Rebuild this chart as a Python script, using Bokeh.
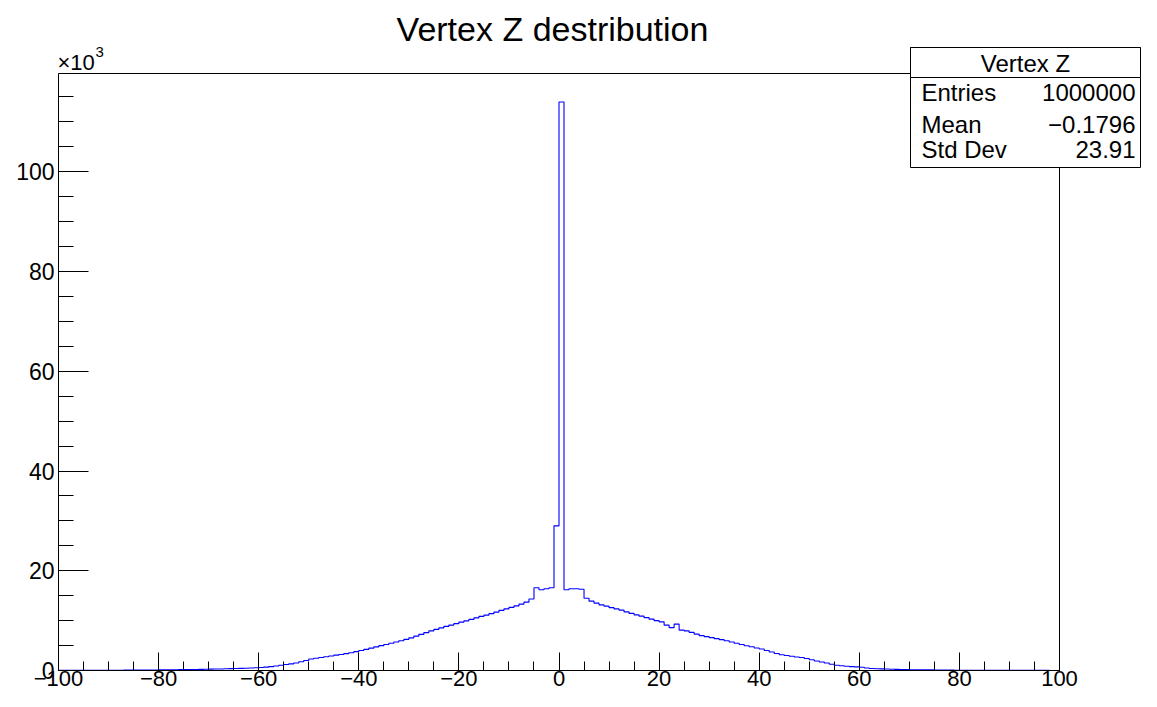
from bokeh.plotting import figure
from bokeh.models import (Range1d, SingleIntervalTicker, FixedTicker, CustomJSTickFormatter,
                          Label, BoxAnnotation, LinearAxis)
from bokeh.embed import file_html
from bokeh.resources import INLINE

# ---------------- data ----------------
title_text = "Vertex Z destribution"
stats_title = "Vertex Z"
stats_names = ["Entries", "Mean", "Std Dev"]
stats_values = ["1000000", "\u22120.1796", "23.91"]

x_min, x_max = -100, 100
bin_width = 1

# bins -100 .. -1
counts_neg = [
    20, 22, 25, 28, 30, 33, 36, 40, 44, 48, 52, 57, 62, 68, 74, 80, 87, 95, 103, 112,
    122, 132, 143, 155, 168, 182, 197, 213, 230, 250,
    270, 292, 315, 340, 368, 398, 430, 465, 505, 550,
    600, 680, 780, 900, 1050, 1200, 1330, 1500, 1750, 2000,
    2300, 2450, 2600, 2760, 2920, 3080, 3220, 3380, 3560, 3780,
    4000, 4230, 4480, 4730, 4980, 5220, 5470, 5710, 5950, 6250,
    6550, 6900, 7250, 7600, 7950, 8250, 8550, 8850, 9100, 9400,
    9700, 9950, 10250, 10550, 10850, 11100, 11400, 11700, 12050, 12350,
    12650, 12950, 13300, 13700, 14350, 16600, 16200, 16400, 16600, 29000,
]
# bins 0 .. 99
counts_pos = [
    114000, 16200, 16400, 16400, 16300, 14500, 13900, 13500, 13150, 12900,
    12600, 12350, 12100, 11750, 11450, 11150, 10900, 10600, 10300, 10000,
    9750, 9100, 8600, 9300, 8100, 7950, 7650, 7300, 7000, 6800,
    6600, 6400, 6200, 5950, 5700, 5450, 5200, 4950, 4750, 4500,
    4300, 4000, 3700, 3400, 3150, 3000, 2850, 2700, 2600, 2400,
    2150, 1900, 1700, 1500, 1250, 1050, 950, 850, 780, 720,
    650, 500, 400, 350, 320, 290, 260, 220, 200, 180,
    165, 150, 140, 130, 120, 110, 80, 75, 70, 65,
    60, 55, 50, 46, 42, 38, 35, 32, 29, 27,
    25, 23, 21, 20, 19, 18, 17, 16, 15, 14,
]
counts = counts_neg + counts_pos
edges = [x_min + i * bin_width for i in range(len(counts) + 1)]

y_min = 0
y_top = max(counts) * 1.05

# ---------------- layout (canvas px) ----------------
W, H = 1141, 691
PX_L, PX_R = 58, 1059     # where x_min / x_max sit on the canvas
PY_T, PY_B = 73, 670      # where y_top / y_min sit on the canvas

sx = (PX_R - PX_L) / (x_max - x_min)
sy = (PY_B - PY_T) / (y_top - y_min)
x_range = Range1d(x_min - PX_L / sx, x_max + (W - PX_R) / sx)
y_range = Range1d(y_min - (H - PY_B) / sy, y_top + PY_T / sy)

FONT = "Liberation Sans"

p = figure(width=W, height=H, output_backend="svg", toolbar_location=None,
           x_range=x_range, y_range=y_range,
           min_border=0, min_border_left=0, min_border_right=0,
           min_border_top=0, min_border_bottom=0)
p.grid.visible = False
p.outline_line_color = None
p.background_fill_color = "white"
p.border_fill_color = "white"

# histogram outline
p.step(edges, counts + [counts[-1]], mode="after", line_color="#0000ff", line_width=1.1)

minus_fmt = CustomJSTickFormatter(code="""
    const v = Math.round(tick);
    return v < 0 ? "\u2212" + Math.abs(v) : String(v);
""")
k_fmt = CustomJSTickFormatter(code="return String(Math.round(tick/1000));")

xa = p.xaxis[0]
xa.fixed_location = y_min
xa.bounds = (x_min, x_max)
xa.ticker = SingleIntervalTicker(interval=20, num_minor_ticks=4)
xa.formatter = minus_fmt
xa.major_tick_in = 18
xa.major_tick_out = 0
xa.minor_tick_in = 9
xa.minor_tick_out = 0
xa.major_label_standoff = 0
xa.major_label_text_font = FONT
xa.major_label_text_font_size = "22px"
xa.major_label_text_color = "black"
xa.axis_line_color = "black"
xa.major_tick_line_color = "black"
xa.minor_tick_line_color = "black"

ya = p.yaxis[0]
ya.fixed_location = x_min
ya.bounds = (y_min, y_top)
ya.ticker = SingleIntervalTicker(interval=20000, num_minor_ticks=4)
ya.formatter = k_fmt
ya.major_tick_in = 30
ya.major_tick_out = 0
ya.minor_tick_in = 15
ya.minor_tick_out = 0
ya.major_label_standoff = 4
ya.major_label_text_font = FONT
ya.major_label_text_font_size = "23px"
ya.major_label_text_color = "black"
ya.axis_line_color = "black"
ya.major_tick_line_color = "black"
ya.minor_tick_line_color = "black"

# frame: top and right edges
top_ax = LinearAxis(fixed_location=y_top, bounds=(x_min, x_max),
                    ticker=FixedTicker(ticks=[]), axis_line_color="black",
                    major_tick_line_color=None, minor_tick_line_color=None)
right_ax = LinearAxis(fixed_location=x_max, bounds=(y_min, y_top),
                      ticker=FixedTicker(ticks=[]), axis_line_color="black",
                      major_tick_line_color=None, minor_tick_line_color=None)
p.add_layout(top_ax, "above")
p.add_layout(right_ax, "right")

def clabel(x, y, text, size, align="left", baseline="middle"):
    return Label(x=x, y=y, x_units="canvas", y_units="canvas", text=text,
                 text_align=align, text_baseline=baseline, text_font=FONT,
                 text_font_size=size, text_color="black")

# title
p.add_layout(clabel(552, 28, title_text, "34px", align="center"))

# x10^3 exponent
p.add_layout(clabel(57, 62, "\u00d710", "22px"))
p.add_layout(clabel(95, 51, "3", "15px"))

# stats box
BL, BR, BT, BD, BB = 910, 1140, 47, 77, 167
for bottom in (BB, BD):
    p.add_layout(BoxAnnotation(left=BL, right=BR, top=BT, bottom=bottom,
                               left_units="canvas", right_units="canvas",
                               top_units="canvas", bottom_units="canvas",
                               fill_color="white", fill_alpha=1.0,
                               line_color="black", line_width=1, line_alpha=1.0))
p.add_layout(clabel((BL + BR) / 2, 63, stats_title, "24px", align="center"))
row_y = [92, 124, 149]
for name, val, ry in zip(stats_names, stats_values, row_y):
    p.add_layout(clabel(921, ry, name, "24px"))
    p.add_layout(clabel(1135, ry, val, "24px", align="right"))

open("out.html", "w").write(file_html(p, INLINE))
